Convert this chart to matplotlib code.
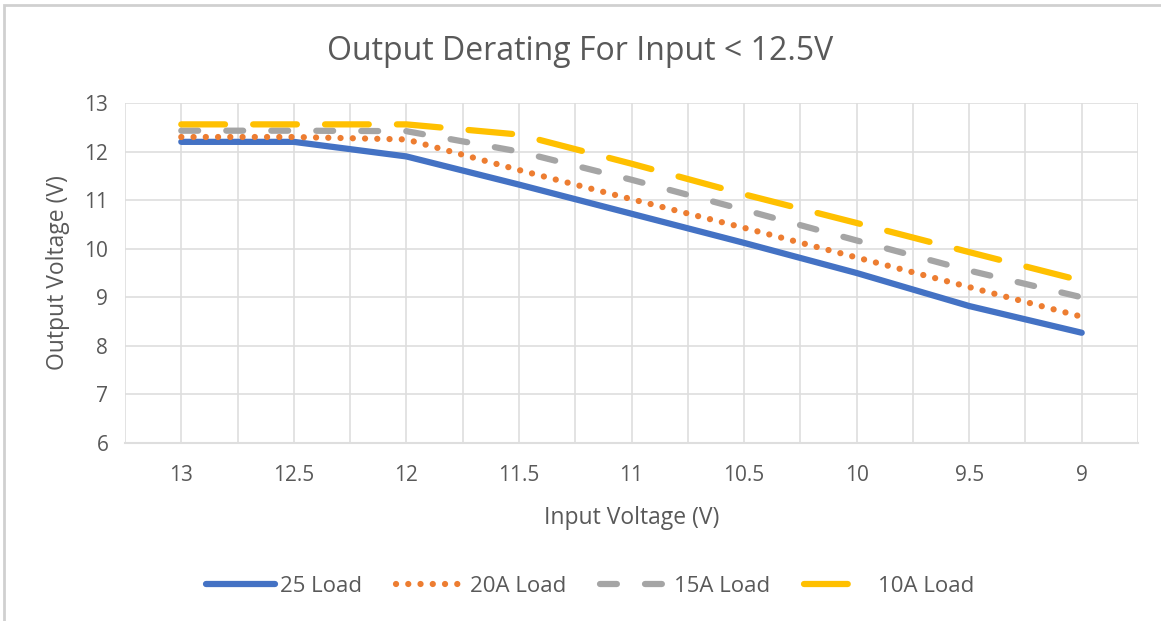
import numpy as np
import matplotlib.pyplot as plt
from matplotlib.patches import Rectangle

# Data
input_v = [13, 12.5, 12, 11.5, 11, 10.5, 10, 9.5, 9]
load_25 = [12.2, 12.2, 11.9, 11.32, 10.72, 10.12, 9.5, 8.82, 8.27]
load_20 = [12.3, 12.3, 12.25, 11.62, 11.02, 10.43, 9.82, 9.21, 8.6]
load_15 = [12.43, 12.43, 12.42, 12.0, 11.42, 10.8, 10.17, 9.55, 9.0]
load_10 = [12.56, 12.56, 12.56, 12.35, 11.75, 11.12, 10.53, 9.93, 9.34]
x_ticks = [13, 12.5, 12, 11.5, 11, 10.5, 10, 9.5, 9]
x_labels = ["13", "12.5", "12", "11.5", "11", "10.5", "10", "9.5", "9"]
y_ticks = [6, 7, 8, 9, 10, 11, 12, 13]

plt.rcParams['font.family'] = ['Open Sans', 'DejaVu Sans']
txt = "#595959"
grid_c = "#dedede"

fig = plt.figure(figsize=(11.61, 6.21), dpi=100)
ax = fig.add_axes([125/1161, 1-443/621, (1138-125)/1161, (443-103)/621])

# chart border (top and left visible)
fig.add_artist(Rectangle((4/1161, -0.1), 1.2, 1-5/621+0.1, transform=fig.transFigure,
                         fill=False, edgecolor="#d0d0d0", linewidth=2))

ax.plot(input_v, load_25, color="#4472c4", lw=4.5, solid_capstyle="round", label="25 Load")
ax.plot(input_v, load_20, color="#ed7d31", lw=4.5, linestyle=(0, (0.01, 1.95)),
        dash_capstyle="round", label="20A Load")
ax.plot(input_v, load_15, color="#a5a5a5", lw=4.5, linestyle=(0, (2.7, 4.5)),
        dash_capstyle="round", label="15A Load")
ax.plot(input_v, load_10, color="#ffc000", lw=4.5, linestyle=(0, (7, 4.5)),
        dash_capstyle="round", label="10A Load")

ax.set_xlim(13.25, 8.75)
ax.set_ylim(6, 13)
ax.set_xticks(x_ticks)
ax.set_xticklabels(x_labels)
ax.set_xticks(np.arange(8.75, 13.3, 0.25), minor=True)
ax.set_yticks(y_ticks)
ax.grid(True, which="both", color=grid_c, lw=1.2)
ax.tick_params(which="both", length=0, colors=txt, labelsize=15)
ax.tick_params(axis="x", pad=16)
ax.tick_params(axis="y", pad=12)
for s in ["top", "right", "left"]:
    ax.spines[s].set_visible(False)
ax.spines["bottom"].set_color(grid_c)
ax.spines["bottom"].set_linewidth(1.5)
ax.set_axisbelow(True)

ax.set_xlabel("Input Voltage (V)", fontsize=16.5, color=txt, labelpad=14)
ax.set_ylabel("Output Voltage (V)", fontsize=16.5, color=txt, labelpad=10)
fig.text(0.5, 1-52/621, "Output Derating For Input < 12.5V", ha="center", va="center",
         fontsize=23, color=txt)

fig.legend(loc="center", bbox_to_anchor=(590/1161, 1-586/621), ncol=4, frameon=False,
           fontsize=16, handlelength=3.1, columnspacing=1.5, handletextpad=0.25,
           labelcolor=txt)

fig.savefig("out.png", dpi=100, facecolor="white")
